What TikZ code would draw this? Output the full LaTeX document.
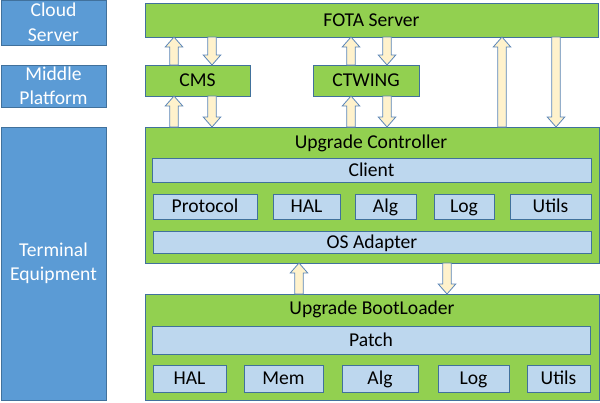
\documentclass[tikz,border=0pt]{standalone}
\usepackage{fontspec}
\setmainfont{Carlito}
\usetikzlibrary{calc}
\definecolor{grn}{HTML}{92D050}
\definecolor{bluebox}{HTML}{5B9BD5}
\definecolor{lblue}{HTML}{BDD7EE}
\definecolor{edge}{HTML}{41719C}
\definecolor{arrfill}{HTML}{FFF2CC}
\definecolor{arredge}{HTML}{5B86B8}
\tikzset{
  base/.style={draw=edge, line width=0.8pt, inner sep=0pt, outer sep=0pt,
    font=\fontsize{19.6}{24.5}\selectfont, text height=12.6pt, text depth=0pt},
  side/.style={base, fill=bluebox, text=white, align=center, text height=, text depth=},
  greenbox/.style={base, fill=grn},
  subbox/.style={base, fill=lblue},
  title/.style={inner sep=0pt, font=\fontsize{19.6}{24.5}\selectfont, text height=12.6pt, text depth=0pt},
  barrow/.style={draw=arredge, fill=arrfill, line width=0.8pt, line join=miter},
}
\newcommand\UpArr[2]{\draw[barrow] let \p1=#1, \p2=#2 in
  (\x1-4.25pt,\y1) -- (\x1-4.25pt,\y2-10pt) -- (\x1-8.75pt,\y2-10pt) -- (\x1,\y2)
  -- (\x1+8.75pt,\y2-10pt) -- (\x1+4.25pt,\y2-10pt) -- (\x1+4.25pt,\y1) -- cycle;}
\newcommand\DnArr[2]{\draw[barrow] let \p1=#1, \p2=#2 in
  (\x1-4.25pt,\y1) -- (\x1-4.25pt,\y2+10pt) -- (\x1-8.75pt,\y2+10pt) -- (\x1,\y2)
  -- (\x1+8.75pt,\y2+10pt) -- (\x1+4.25pt,\y2+10pt) -- (\x1+4.25pt,\y1) -- cycle;}
\begin{document}
\begin{tikzpicture}[x=1pt, y=-1pt]
\useasboundingbox (0,0) rectangle (600,402);
% left column
\node[side, minimum width=105pt, minimum height=45pt] (cloud) at (53.5,22.5) {Cloud\\Server};
\node[side, minimum width=105pt, minimum height=42pt] (mid) at (53.5,86) {Middle\\Platform};
\node[side, minimum width=105pt, minimum height=273pt] (term) at (53.5,263.5) {Terminal\\Equipment};
% top boxes
\node[greenbox, minimum width=453pt, minimum height=34pt] (fota) at (371.5,20) {FOTA Server};
\node[greenbox, minimum width=105pt, minimum height=31pt] (cms) at (197.5,80.5) {CMS};
\node[greenbox, minimum width=106pt, minimum height=31pt] (ctw) at (366,80.5) {CTWING};
% upgrade controller
\node[greenbox, minimum width=454pt, minimum height=136pt] (ctrl) at (372,195) {};
\node[title] (ctrlt) at (371,142) {Upgrade Controller};
\node[subbox, minimum width=439pt, minimum height=24pt] (client) at (371.5,170) {Client};
\node[subbox, minimum width=104pt, minimum height=25pt] (proto) at (205,206.5) {Protocol};
\node[subbox, minimum width=67pt, minimum height=25pt] (hal1) at (306.5,206.5) {HAL};
\node[subbox, minimum width=61pt, minimum height=25pt] (alg1) at (385.5,206.5) {Alg};
\node[subbox, minimum width=60pt, minimum height=25pt] (log1) at (464,206.5) {Log};
\node[subbox, minimum width=81pt, minimum height=25pt] (util1) at (550.5,206.5) {Utils};
\node[subbox, minimum width=438pt, minimum height=22pt] (osad) at (372,242) {OS Adapter};
% upgrade bootloader
\node[greenbox, minimum width=454pt, minimum height=106pt] (boot) at (372,347) {};
\node[title] (boott) at (372,308.5) {Upgrade BootLoader};
\node[subbox, minimum width=438pt, minimum height=28pt] (patch) at (371,340) {Patch};
\node[subbox, minimum width=73pt, minimum height=27pt] (hal2) at (189.5,378.5) {HAL};
\node[subbox, minimum width=79pt, minimum height=27pt] (mem2) at (283.5,378.5) {Mem};
\node[subbox, minimum width=76pt, minimum height=27pt] (alg2) at (380,378.5) {Alg};
\node[subbox, minimum width=71pt, minimum height=27pt] (log2) at (473.5,378.5) {Log};
\node[subbox, minimum width=63pt, minimum height=27pt] (util2) at (558.5,378.5) {Utils};
% arrow x positions
\coordinate (xa) at (174,0);
\coordinate (xb) at (212,0);
\coordinate (xc) at (351,0);
\coordinate (xd) at (387,0);
\coordinate (xe) at (502,0);
\coordinate (xf) at (556,0);
\coordinate (xg) at (299,0);
\coordinate (xh) at (447,0);
% arrows
\UpArr{(cms.north -| xa)}{(fota.south -| xa)}
\DnArr{(fota.south -| xb)}{(cms.north -| xb)}
\UpArr{(ctrl.north -| xa)}{(cms.south -| xa)}
\DnArr{(cms.south -| xb)}{(ctrl.north -| xb)}
\UpArr{(ctw.north -| xc)}{(fota.south -| xc)}
\DnArr{(fota.south -| xd)}{(ctw.north -| xd)}
\UpArr{(ctrl.north -| xc)}{(ctw.south -| xc)}
\DnArr{(ctw.south -| xd)}{(ctrl.north -| xd)}
\UpArr{(ctrl.north -| xe)}{(fota.south -| xe)}
\DnArr{(fota.south -| xf)}{(ctrl.north -| xf)}
\UpArr{(boot.north -| xg)}{(ctrl.south -| xg)}
\DnArr{(ctrl.south -| xh)}{(boot.north -| xh)}
\end{tikzpicture}
\end{document}
